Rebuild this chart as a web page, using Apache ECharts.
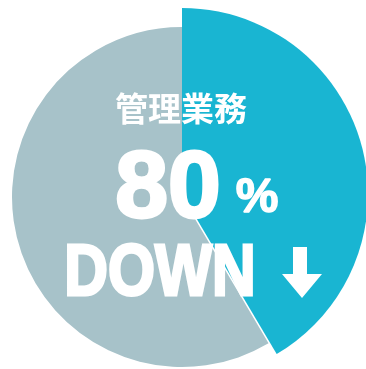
<!DOCTYPE html>
<html>
<head>
<meta charset="utf-8">
<script src="https://cdn.jsdelivr.net/npm/echarts@6/dist/echarts.min.js"></script>
<style>
  html, body { margin: 0; padding: 0; background: #ffffff; }
  #chart { width: 366px; height: 369px; }
</style>
</head>
<body>
<div id="chart"></div>
<script>
// Share of workload: the highlighted slice and the remainder
const categories = ['削減', '残り'];
const values = [41.5, 58.5];
const colors = ['#19b5d2', '#a7c2c9'];

// Headline texts
const headTitle = '管理業務';
const headValue = '80';
const headUnit = '%';
const headWord = 'DOWN';

const chart = echarts.init(document.getElementById('chart'), null, { renderer: 'canvas' });

const clear = 'rgba(0,0,0,0)';

// Base disc (remainder slice) and the larger highlighted slice on top
function pieData(showIndex) {
  return categories.map((name, i) => ({
    name: name,
    value: values[i],
    itemStyle: { color: i === showIndex ? colors[i] : clear }
  }));
}

const common = {
  type: 'pie',
  startAngle: 90,
  clockwise: true,
  silent: true,
  animation: false,
  label: { show: false },
  labelLine: { show: false },
  emphasis: { disabled: true }
};

const white = '#ffffff';

// Heavy white lettering: fill plus a white outline to thicken the strokes
function heavyText(text, x, y, font, strokeWidth, extra) {
  return Object.assign({
    type: 'text', x: x, y: y, z: 10, silent: true,
    style: {
      text: text, fill: white, stroke: white, lineWidth: strokeWidth,
      align: 'center', verticalAlign: 'middle', font: font
    }
  }, extra || {});
}

chart.setOption({
  backgroundColor: '#ffffff',
  series: [
    Object.assign({}, common, {
      center: [182, 197],
      radius: [0, 170],
      data: pieData(1),
      z: 1
    }),
    Object.assign({}, common, {
      center: [182, 194],
      radius: [0, 186],
      data: pieData(0),
      z: 2
    })
  ],
  graphic: [
    heavyText(headTitle, 181, 108, 'bold 33px "Noto Sans CJK JP", sans-serif', 0),
    heavyText(headValue, 168, 191, 'bold 95px "Liberation Sans", Arial, sans-serif', 3),
    heavyText(headUnit, 257, 199, 'bold 48px "Liberation Sans", Arial, sans-serif', 1.5),
    heavyText(headWord, 160, 275, 'bold 72px "Liberation Sans", Arial, sans-serif', 3, { scaleX: 0.84 }),
    {
      // down arrow beside the word
      type: 'polygon', z: 10, silent: true,
      shape: {
        points: [[293, 247], [307, 247], [307, 274], [322, 274], [302, 298], [282, 274], [293, 274]]
      },
      style: { fill: white }
    }
  ]
});
</script>
</body>
</html>
